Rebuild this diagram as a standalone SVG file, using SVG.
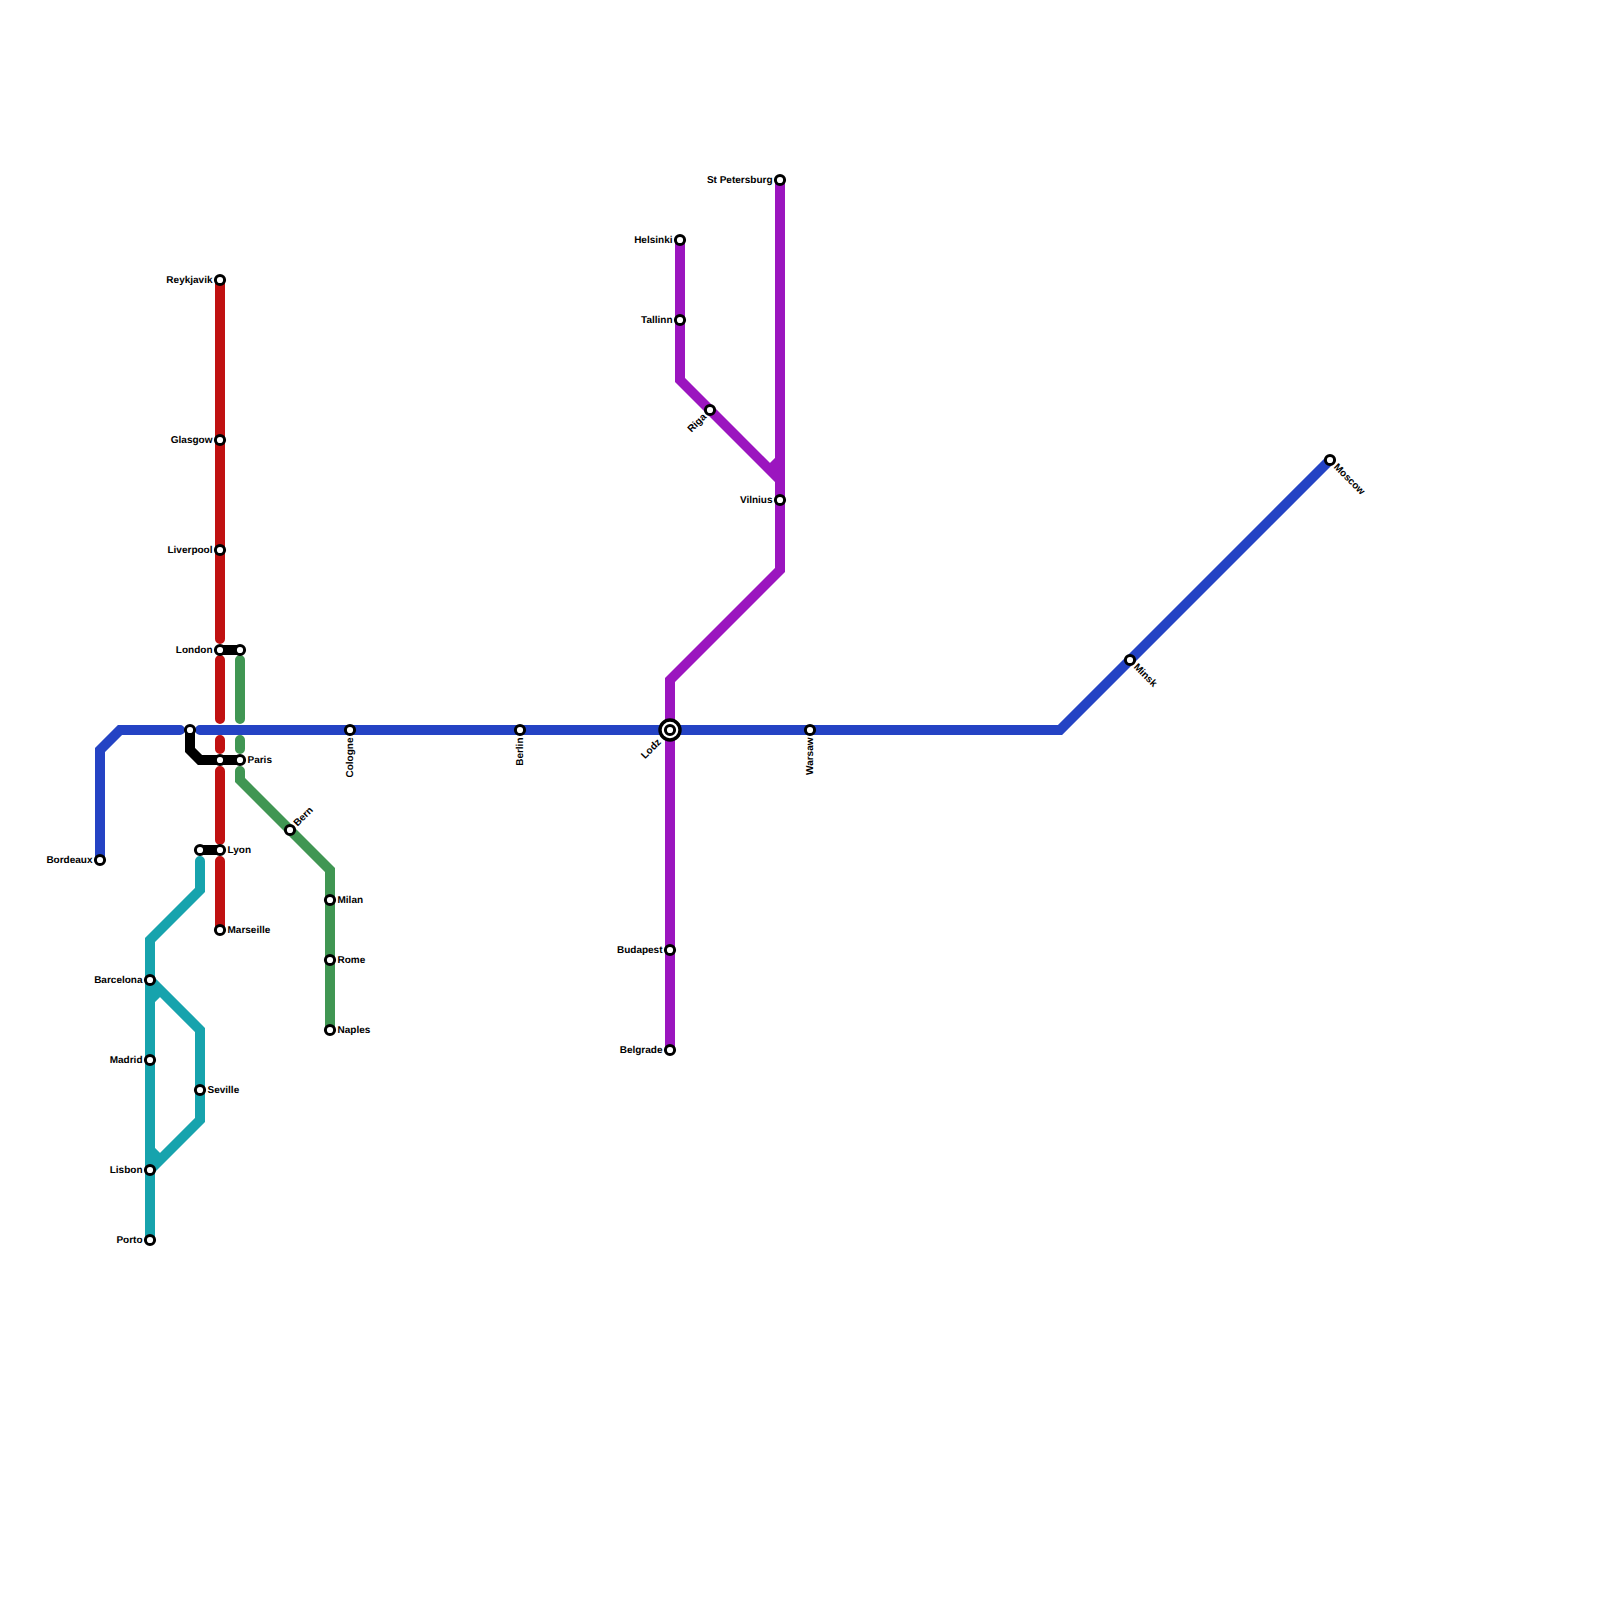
<svg xmlns="http://www.w3.org/2000/svg" width="1600" height="1600" viewBox="0 0 1600 1600">
<defs>
<style>
.l{fill:none;stroke-width:10;stroke-linecap:round;stroke-linejoin:miter}
.blue{stroke:#2443c4}
.red{stroke:#c01111}
.green{stroke:#409653}
.teal{stroke:#17a3ad}
.purple{stroke:#9b15bf}
.black{stroke:#000}
.b{stroke-linecap:butt}
.s{fill:#fff;stroke:#000;stroke-width:3}
.w{stroke-width:3.400}
text{font-family:"Liberation Sans",Arial,sans-serif;font-size:10px;font-weight:bold;fill:#000;text-rendering:geometricPrecision}
.e{text-anchor:end}
</style>
<circle id="st" class="s" r="4.600"/>
</defs>
<rect width="1600" height="1600" fill="#fff"/>
<g id="connectors">
<path class="l blue" d="M100 860V750L120 730H180"/>
<path class="l blue" d="M200 730H1060L1330 460"/>
<path class="l red" d="M220 280V639M220 660V719M220 740V749M220 771V840M220 861V930"/>
<path class="l green" d="M240 660V719M240 740V749M240 771V780L330 870V1030"/>
<path class="l teal" d="M200 861V890L150 940V1240"/>
<path class="l teal" d="M150 980L200 1030V1120L150 1170"/>
<path class="l teal b" d="M150 1000L160 990M150 1150L160 1160"/>
<path class="l purple" d="M680 240V380L780 480"/>
<path class="l purple" d="M780 180V570L670 680V1050"/>
<path class="l purple b" d="M770 470L780 460"/>
<path class="l black b" d="M220 650H240M190 730V750L200 760H240M200 850H220"/>
</g>
<g id="n-reykjavik"><use href="#st" x="220" y="280"/><text class="e" x="212.500" y="282.600">Reykjavik</text></g>
<g id="n-glasgow"><use href="#st" x="220" y="440"/><text class="e" x="212.500" y="442.600">Glasgow</text></g>
<g id="n-liverpool"><use href="#st" x="220" y="550"/><text class="e" x="212.500" y="552.600">Liverpool</text></g>
<g id="n-london"><use href="#st" x="220" y="650"/><use href="#st" x="240" y="650"/><text class="e" x="212.500" y="652.600">London</text></g>
<g id="n-paris"><use href="#st" x="220" y="760"/><use href="#st" x="240" y="760"/><use href="#st" x="190" y="730"/><text x="247.500" y="762.600">Paris</text></g>
<g id="n-lyon"><use href="#st" x="200" y="850"/><use href="#st" x="220" y="850"/><text x="227.500" y="852.600">Lyon</text></g>
<g id="n-marseille"><use href="#st" x="220" y="930"/><text x="227.500" y="932.600">Marseille</text></g>
<g id="n-bordeaux"><use href="#st" x="100" y="860"/><text class="e" x="92.500" y="862.600">Bordeaux</text></g>
<g id="n-bern"><use href="#st" x="290" y="830"/><text transform="translate(290 830) rotate(-45)" x="7.500" y="3">Bern</text></g>
<g id="n-milan"><use href="#st" x="330" y="900"/><text x="337.500" y="902.600">Milan</text></g>
<g id="n-rome"><use href="#st" x="330" y="960"/><text x="337.500" y="962.600">Rome</text></g>
<g id="n-naples"><use href="#st" x="330" y="1030"/><text x="337.500" y="1032.600">Naples</text></g>
<g id="n-cologne"><use href="#st" x="350" y="730"/><text class="e" transform="translate(350 730) rotate(-90)" x="-7.500" y="2.600">Cologne</text></g>
<g id="n-berlin"><use href="#st" x="520" y="730"/><text class="e" transform="translate(520 730) rotate(-90)" x="-7.500" y="2.600">Berlin</text></g>
<g id="n-warsaw"><use href="#st" x="810" y="730"/><text class="e" transform="translate(810 730) rotate(-90)" x="-7.500" y="2.600">Warsaw</text></g>
<g id="n-minsk"><use href="#st" x="1130" y="660"/><text transform="translate(1130 660) rotate(45)" x="7.500" y="3">Minsk</text></g>
<g id="n-moscow"><use href="#st" x="1330" y="460"/><text transform="translate(1330 460) rotate(45)" x="7.500" y="3">Moscow</text></g>
<g id="n-barcelona"><use href="#st" x="150" y="980"/><text class="e" x="142.500" y="982.600">Barcelona</text></g>
<g id="n-madrid"><use href="#st" x="150" y="1060"/><text class="e" x="142.500" y="1062.600">Madrid</text></g>
<g id="n-seville"><use href="#st" x="200" y="1090"/><text x="207.500" y="1092.600">Seville</text></g>
<g id="n-lisbon"><use href="#st" x="150" y="1170"/><text class="e" x="142.500" y="1172.600">Lisbon</text></g>
<g id="n-porto"><use href="#st" x="150" y="1240"/><text class="e" x="142.500" y="1242.600">Porto</text></g>
<g id="n-helsinki"><use href="#st" x="680" y="240"/><text class="e" x="672.500" y="242.600">Helsinki</text></g>
<g id="n-tallinn"><use href="#st" x="680" y="320"/><text class="e" x="672.500" y="322.600">Tallinn</text></g>
<g id="n-riga"><use href="#st" x="710" y="410"/><text class="e" transform="translate(710 410) rotate(-45)" x="-7.500" y="3">Riga</text></g>
<g id="n-stpetersburg"><use href="#st" x="780" y="180"/><text class="e" x="772.500" y="182.600">St Petersburg</text></g>
<g id="n-vilnius"><use href="#st" x="780" y="500"/><text class="e" x="772.500" y="502.600">Vilnius</text></g>
<g id="n-lodz"><circle class="s w" cx="670" cy="730" r="10"/><use href="#st" x="670" y="730"/><text class="e" transform="translate(670 730) rotate(-45)" x="-15" y="3">Lodz</text></g>
<g id="n-budapest"><use href="#st" x="670" y="950"/><text class="e" x="662.500" y="952.600">Budapest</text></g>
<g id="n-belgrade"><use href="#st" x="670" y="1050"/><text class="e" x="662.500" y="1052.600">Belgrade</text></g>
</svg>
